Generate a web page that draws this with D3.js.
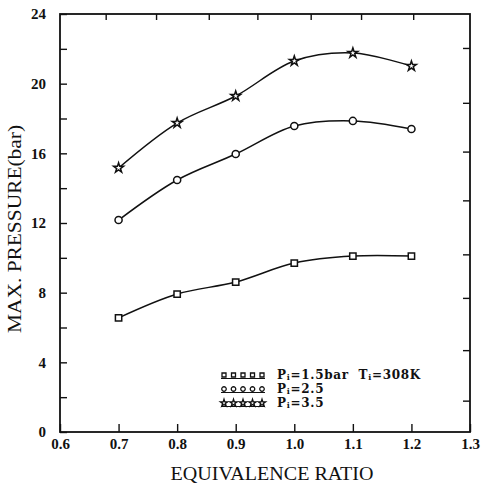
<!DOCTYPE html>
<html>
<head>
<meta charset="utf-8">
<script src="https://cdn.jsdelivr.net/npm/d3@7/dist/d3.min.js"></script>
<style>
  html, body { margin: 0; padding: 0; background: #fff; }
  svg { display: block; }
  .tick-label { font-family: "Liberation Serif", "DejaVu Serif", serif; font-weight: bold; font-size: 15px; fill: #111; }
  .axis-title { font-family: "Liberation Serif", "DejaVu Serif", serif; font-size: 19px; fill: #111; }
  .legend-text { font-family: "DejaVu Serif", "Liberation Serif", serif; font-weight: bold; font-size: 12px; letter-spacing: 0.7px; fill: #111; }
</style>
</head>
<body>
<svg id="chart" width="483" height="487"></svg>
<script>
// Equivalence ratio sampled in each run
const phi = [0.7, 0.8, 0.9, 1.0, 1.1, 1.2];

// Maximum pressure (bar) for each initial pressure
const p15 = [6.55, 7.92, 8.61, 9.70, 10.10, 10.10];
const p25 = [12.17, 14.47, 15.96, 17.57, 17.86, 17.40];
const p35 = [15.16, 17.74, 19.29, 21.30, 21.76, 21.01];

// Axis ticks
const xTicks = [0.6, 0.7, 0.8, 0.9, 1.0, 1.1, 1.2, 1.3];
const xTickLabels = ["0.6", "0.7", "0.8", "0.9", "1.0", "1.1", "1.2", "1.3"];
const yTicks = [0, 2, 4, 6, 8, 10, 12, 14, 16, 18, 20, 22, 24];
const yTickLabels = ["0", "", "4", "", "8", "", "12", "", "16", "", "20", "", "24"];
const topTicks = [0.678, 0.764, 0.854, 0.937, 1.028, 1.114, 1.203];
const rightTicks = [22.05, 18.9, 16.1, 13.3, 10.2, 7.7, 4.7, 1.8];

// Legend entries: plain text parts alternate with subscripts
const legendLabels = [
  ["P", "i", "=1.5bar  T", "i", "=308K"],
  ["P", "i", "=2.5"],
  ["P", "i", "=3.5"]
];

const series = [
  { values: p15, symbol: d3.symbolSquare, size: 40, label: legendLabels[0] },
  { values: p25, symbol: d3.symbolCircle, size: 40, label: legendLabels[1] },
  { values: p35, symbol: d3.symbolStar, size: 30, label: legendLabels[2] }
];

const svg = d3.select("#chart");
const x = d3.scaleLinear().domain([0.6, 1.3]).range([60, 470]);
const y = d3.scaleLinear().domain([0, 24]).range([432, 14]);

// Frame
svg.append("rect")
  .attr("x", x(0.6)).attr("y", y(24))
  .attr("width", x(1.3) - x(0.6)).attr("height", y(0) - y(24))
  .attr("fill", "none").attr("stroke", "#111").attr("stroke-width", 1.8);

// Bottom axis ticks and labels
const bottomAxis = svg.append("g").attr("transform", `translate(0,${y(0)})`)
  .call(d3.axisBottom(x).tickValues(xTicks).tickSize(-8).tickFormat((d, i) => xTickLabels[i]).tickPadding(14));
bottomAxis.select(".domain").remove();
bottomAxis.selectAll(".tick line").attr("stroke", "#111").attr("stroke-width", 1.4);
bottomAxis.selectAll(".tick text").attr("class", "tick-label").attr("dy", "0.2em");

// Left axis ticks and labels
const leftAxis = svg.append("g").attr("transform", `translate(${x(0.6)},0)`)
  .call(d3.axisLeft(y).tickValues(yTicks).tickSize(-7).tickFormat((d, i) => yTickLabels[i]).tickPadding(14));
leftAxis.select(".domain").remove();
leftAxis.selectAll(".tick line").attr("stroke", "#111").attr("stroke-width", 1.4);
leftAxis.selectAll(".tick text").attr("class", "tick-label");

// Top axis ticks
const topAxis = svg.append("g").attr("transform", `translate(0,${y(24)})`)
  .call(d3.axisTop(x).tickValues(topTicks).tickSize(-6).tickFormat(""));
topAxis.select(".domain").remove();
topAxis.selectAll(".tick line").attr("stroke", "#111").attr("stroke-width", 1.4);

// Right axis ticks
const rightAxis = svg.append("g").attr("transform", `translate(${x(1.3)},0)`)
  .call(d3.axisRight(y).tickValues(rightTicks).tickSize(-7).tickFormat(""));
rightAxis.select(".domain").remove();
rightAxis.selectAll(".tick line").attr("stroke", "#111").attr("stroke-width", 1.4);

// Axis titles
svg.append("text").attr("class", "axis-title")
  .attr("x", 272).attr("y", 480).attr("text-anchor", "middle")
  .attr("textLength", 203).attr("lengthAdjust", "spacingAndGlyphs")
  .text("EQUIVALENCE RATIO");
svg.append("text").attr("class", "axis-title")
  .attr("transform", "translate(21,229) rotate(-90)").attr("text-anchor", "middle")
  .attr("textLength", 208).attr("lengthAdjust", "spacingAndGlyphs")
  .text("MAX. PRESSURE(bar)");

// Curves
const line = d3.line()
  .x((d, i) => x(phi[i]))
  .y(d => y(d))
  .curve(d3.curveCatmullRom.alpha(0.5));

series.forEach(s => {
  svg.append("path")
    .datum(s.values)
    .attr("d", line)
    .attr("fill", "none")
    .attr("stroke", "#111")
    .attr("stroke-width", 1.5);

  svg.append("g").selectAll("path")
    .data(s.values)
    .join("path")
    .attr("transform", (d, i) => `translate(${x(phi[i])},${y(d)})`)
    .attr("d", d3.symbol().type(s.symbol).size(s.size))
    .attr("fill", "#fff")
    .attr("stroke", "#111")
    .attr("stroke-width", 1.5);
});

// Legend: a row of five markers on a short rule, then the label
const legend = svg.append("g");
const legendBaselines = [378.5, 392.5, 406.5];
series.forEach((s, k) => {
  const by = legendBaselines[k];
  legend.append("line")
    .attr("x1", 221).attr("x2", 265)
    .attr("y1", by).attr("y2", by)
    .attr("stroke", "#111").attr("stroke-width", 1.2);
  legend.append("g").selectAll("path")
    .data(d3.range(5))
    .join("path")
    .attr("transform", i => `translate(${224 + i * 9.5},${by - 3.5})`)
    .attr("d", d3.symbol().type(s.symbol).size(16))
    .attr("fill", "#fff")
    .attr("stroke", "#111")
    .attr("stroke-width", 1.3);
  const t = legend.append("text").attr("class", "legend-text")
    .attr("x", 277).attr("y", by)
    .attr("xml:space", "preserve");
  s.label.forEach((part, j) => {
    const sub = j % 2 === 1;
    t.append("tspan")
      .attr("y", sub ? by + 1 : by)
      .attr("font-size", sub ? "8px" : null)
      .text(part);
  });
});
</script>
</body>
</html>
